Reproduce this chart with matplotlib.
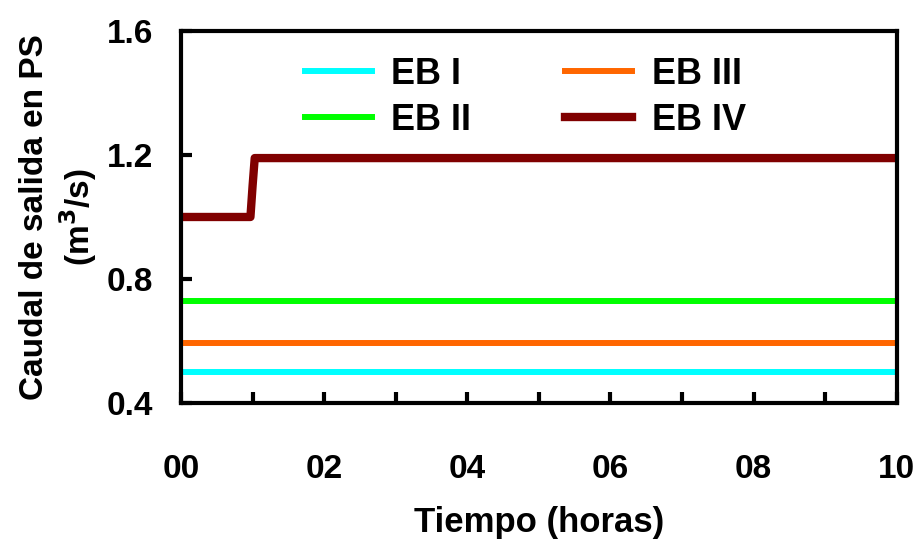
from matplotlib import pyplot as plt
import numpy as np

plt.rcParams['font.family'] = ['Liberation Sans', 'DejaVu Sans']
plt.rcParams['font.weight'] = 'bold'
plt.rcParams['mathtext.default'] = 'bf'

# time in hours
t_flat = [0, 10]
eb1 = [0.50, 0.50]
eb2 = [0.73, 0.73]
eb3 = [0.595, 0.595]
t_eb4 = [0, 0.97, 1.0, 1.03, 10]
eb4 = [1.0, 1.0, 1.1, 1.19, 1.19]

x_ticks = np.arange(0, 11, 1)
x_labels = ['00', '', '02', '', '04', '', '06', '', '08', '', '10']
y_ticks = [0.4, 0.8, 1.2, 1.6]

fig = plt.figure(figsize=(9.16, 5.43), dpi=100)
ax = fig.add_axes([0.1976, 0.2578, 0.7814, 0.6852])

ax.plot(t_flat, eb1, color='#00FFFF', lw=4.3, label='EB I')
ax.plot(t_flat, eb2, color='#00FF00', lw=4.3, label='EB II')
ax.plot(t_flat, eb3, color='#FF6600', lw=4.3, label='EB III')
ax.plot(t_eb4, eb4, color='#800000', lw=6, label='EB IV', solid_joinstyle='round')

ax.set_xlim(0, 10)
ax.set_ylim(0.4, 1.6)
ax.set_xticks(x_ticks)
ax.set_xticklabels(x_labels)
ax.set_yticks(y_ticks)
ax.set_yticklabels(['0.4', '0.8', '1.2', '1.6'])
ax.tick_params(direction='in', length=8, width=3, labelsize=24)
ax.tick_params(axis='x', pad=37)
ax.tick_params(axis='y', pad=20)
for s in ax.spines.values():
    s.set_linewidth(3)

ax.set_xlabel('Tiempo (horas)', fontsize=25, fontweight='bold', labelpad=15)
ax.set_ylabel('Caudal de salida en PS\n(m$^3$/s)', fontsize=24, fontweight='bold',
              labelpad=6, linespacing=1.2)

ax.legend(loc='upper left', ncol=2, frameon=False, fontsize=26, handlelength=1.85,
          columnspacing=2.6, handletextpad=0.55, labelspacing=0.3,
          borderpad=0, borderaxespad=0, bbox_to_anchor=(0.173, 0.93))

fig.savefig('out.png')
